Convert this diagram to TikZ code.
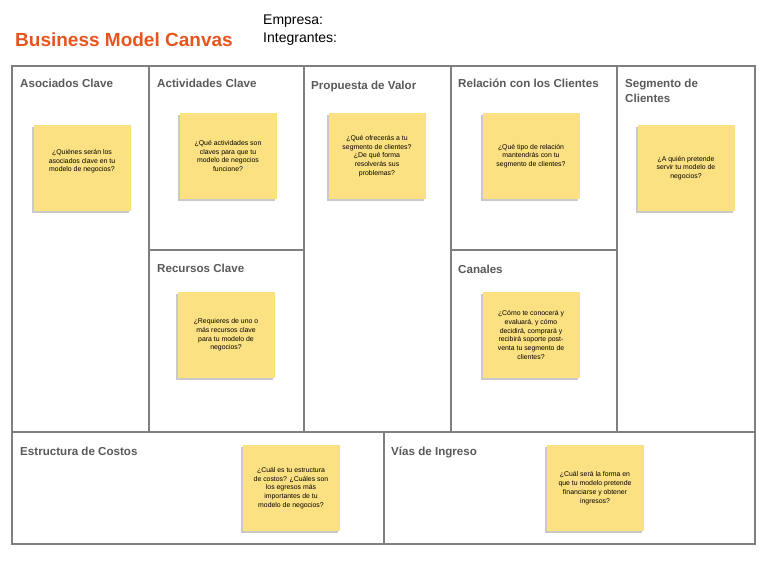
\documentclass[tikz,border=0pt]{standalone}
\usepackage{fontspec}
\setmainfont{Liberation Sans}
\usetikzlibrary{shadows}

\definecolor{naranja}{HTML}{E8541E}
\definecolor{amarillo}{HTML}{FCE183}
\definecolor{gris}{HTML}{7F7F7F}
\definecolor{grisoscuro}{HTML}{595959}

\tikzset{
  marco/.style={draw=gris, line width=1.4pt},
  titulo/.style={anchor=north west, inner sep=0pt, align=left, text=grisoscuro,
    font=\bfseries\fontsize{11.6}{15}\selectfont},
  nota/.style={fill=amarillo, minimum width=97pt, minimum height=86pt, inner sep=0pt,
    align=center, text=black, font=\fontsize{6.9}{8.8}\selectfont,
    drop shadow={shadow xshift=-1.2pt, shadow yshift=-2pt, opacity=0.3, fill=black!70}}
}

\begin{document}
\begin{tikzpicture}[x=1pt, y=-1pt]
	\useasboundingbox (0,0) rectangle (768,576);

	% encabezado
	\node[anchor=west, inner sep=0pt, text=naranja, font=\bfseries\fontsize{19}{22}\selectfont] (nombre) at (15,40) {Business Model Canvas};
	\node[anchor=north west, inner sep=0pt, align=left, font=\fontsize{14}{18}\selectfont] (datos) at (263,15) {Empresa:\\Integrantes:};

	% marco y divisiones
	\draw[marco] (12,66) rectangle (755,544);
	\draw[marco] (12,432) -- (755,432);
	\foreach \x in {149,304,451,617}
		\draw[marco] (\x,66) -- (\x,432);
	\draw[marco] (149,250) -- (304,250); % actividades / recursos
	\draw[marco] (451,250) -- (617,250); % relacion / canales
	\draw[marco] (384,432) -- (384,544); % costos / ingresos

	% titulos de los bloques
	\node[titulo] (tasociados) at (20,79) {Asociados Clave};
	\node[titulo] (tactividades) at (157,79) {Actividades Clave};
	\node[titulo] (tpropuesta) at (311,81) {Propuesta de Valor};
	\node[titulo] (trelacion) at (458,79) {Relación con los Clientes};
	\node[titulo] (tsegmento) at (625,79) {Segmento de\\Clientes};
	\node[titulo] (trecursos) at (157,264) {Recursos Clave};
	\node[titulo] (tcanales) at (458,265) {Canales};
	\node[titulo] (tcostos) at (20,447) {Estructura de Costos};
	\node[titulo] (tingresos) at (391,447) {Vías de Ingreso};

	% notas
	\node[nota] (nasociados) at (82,168) {¿Quiénes serán los\\asociados clave en tu\\modelo de negocios?\\[6pt]};
	\node[nota] (nactividades) at (228,156) {¿Qué actividades son\\claves para que tu\\modelo de negocios\\funcione?};
	\node[nota] (npropuesta) at (377,156) {¿Qué ofrecerás a tu\\segmento de clientes?\\¿De qué forma\\resolverás sus\\problemas?};
	\node[nota] (nrelacion) at (531,156) {¿Qué tipo de relación\\mantendrás con tu\\segmento de clientes?};
	\node[nota] (nsegmento) at (686,168) {¿A quién pretende\\servir tu modelo de\\negocios?};
	\node[nota] (nrecursos) at (226,335) {¿Requieres de uno o\\más recursos clave\\para tu modelo de\\negocios?};
	\node[nota] (ncanales) at (531,335) {¿Cómo te conocerá y\\evaluará, y cómo\\decidirá, comprará y\\recibirá soporte post-\\venta tu segmento de\\clientes?};
	\node[nota] (ncostos) at (291,488) {¿Cuál es tu estructura\\de costos? ¿Cuáles son\\los egresos más\\importantes de tu\\modelo de negocios?};
	\node[nota] (ningresos) at (595,488) {¿Cuál será la forma en\\que tu modelo pretende\\financiarse y obtener\\ingresos?};
\end{tikzpicture}
\end{document}
